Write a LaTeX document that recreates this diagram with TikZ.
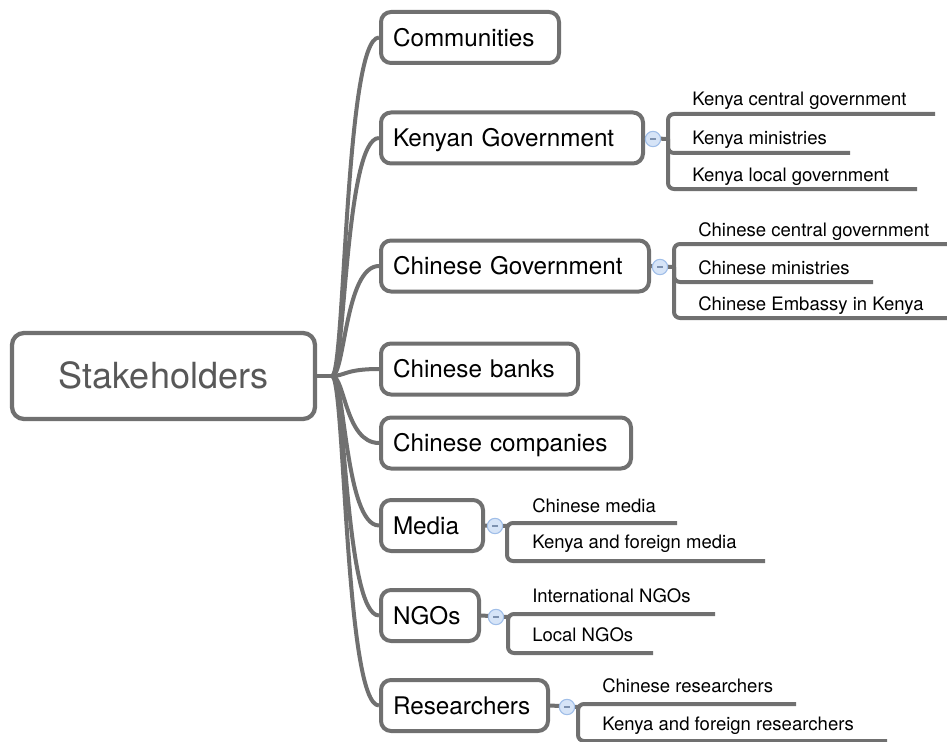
\documentclass[tikz,border=0pt]{standalone}
\usepackage{fontspec}
\setmainfont{TeX Gyre Heros}
\usetikzlibrary{calc}
\definecolor{linegray}{RGB}{112,112,112}
\definecolor{rootgray}{RGB}{88,88,88}
\definecolor{knobfill}{RGB}{214,228,247}
\definecolor{knobdraw}{RGB}{160,190,232}
\definecolor{knobminus}{RGB}{125,145,175}

\begin{document}
\begin{tikzpicture}[x=0.75pt,y=-0.75pt,
  topic/.style={draw=linegray, line width=3pt, rounded corners=7.5pt, fill=white,
    anchor=west, minimum height=38.25pt, inner xsep=9pt, inner ysep=0pt,
    text height=13.1pt, text depth=0pt, align=left,
    font=\fontsize{18.2}{20}\selectfont},
  central/.style={draw=linegray, line width=3.2pt, rounded corners=9pt, fill=white,
    minimum width=227.25pt, minimum height=64.5pt, inner sep=0pt,
    text height=19.4pt, text depth=0pt, text=rootgray,
    font=\fontsize{27}{30}\selectfont},
  branch/.style={draw=linegray, line width=3pt},
  leafline/.style={draw=linegray, line width=3pt, rounded corners=4.5pt},
  leaf/.style={anchor=base west, inner sep=0pt, font=\fontsize{13.9}{16}\selectfont},
  knob/.style={circle, draw=knobdraw, fill=knobfill, line width=0.8pt,
    minimum size=11.5pt, inner sep=0pt},
]
\useasboundingbox (0,0) rectangle (947,742);

% central topic and main topics
\node[central] (root) at (163.5,376) {Stakeholders};
\node[topic, text width=115.5pt] (t1) at (379,37.5) {Communities};
\node[topic, text width=178.5pt] (t2) at (379,138) {Kenyan Government};
\node[topic, text width=183pt] (t3) at (379,266) {Chinese Government};
\node[topic, text width=129.75pt] (t4) at (379,369) {Chinese banks};
\node[topic, text width=169.5pt] (t5) at (379,443) {Chinese companies};
\node[topic, text width=58.5pt] (t6) at (379,525.5) {Media};
\node[topic, text width=55.5pt] (t7) at (379,615.5) {NGOs};
\node[topic, text width=107.25pt] (t8) at (379,705.5) {Researchers};

% curved branches from the central topic
\coordinate (hub) at (332,376);
\draw[branch] (root.east) -- (hub);
\foreach \t in {t1,t2,t3,t4,t5,t6,t7,t8}{
  \draw[branch] (hub) .. controls ($(hub)+(13,0)$) and ($(\t.west)+(-34,0)$) .. (\t.west);
}

% collapse knobs and the spines of the sub-branches
\coordinate (k2) at (653,139);  \coordinate (s2) at (668,139);
\coordinate (k3) at (660,267);  \coordinate (s3) at (674,267);
\coordinate (k6) at (495,526);  \coordinate (s6) at (507,526);
\coordinate (k7) at (496,617);  \coordinate (s7) at (508,617);
\coordinate (k8) at (567,707);  \coordinate (s8) at (578,707);
\foreach \i in {2,3,6,7,8}{
  \draw[branch] (t\i.east) -- (s\i);
}

% underline ends of the subtopics
\coordinate (e21) at (935,114);
\coordinate (e22) at (850,153);
\coordinate (e23) at (917,189);
\coordinate (e31) at (950,244);
\coordinate (e32) at (873,282);
\coordinate (e33) at (950,318);
\coordinate (e61) at (677,523);
\coordinate (e62) at (765,561);
\coordinate (e71) at (715,614);
\coordinate (e72) at (653,653);
\coordinate (e81) at (796,704);
\coordinate (e82) at (887,741);

\foreach \s/\e in {s2/e21,s2/e22,s2/e23,s3/e31,s3/e32,s3/e33,s6/e61,s6/e62,s7/e71,s7/e72,s8/e81,s8/e82}{
  \draw[leafline] (\s) |- (\e);
}

% subtopic labels
\node[leaf] (l21) at (692,106) {Kenya central government};
\node[leaf] (l22) at (692,145) {Kenya ministries};
\node[leaf] (l23) at (692,181) {Kenya local government};
\node[leaf] (l31) at (698,236) {Chinese central government};
\node[leaf] (l32) at (698,274) {Chinese ministries};
\node[leaf] (l33) at (698,310) {Chinese Embassy in Kenya};
\node[leaf] (l61) at (532,512) {Chinese media};
\node[leaf] (l62) at (532,548) {Kenya and foreign media};
\node[leaf] (l71) at (532,602) {International NGOs};
\node[leaf] (l72) at (532,641) {Local NGOs};
\node[leaf] (l81) at (602,692) {Chinese researchers};
\node[leaf] (l82) at (602,730) {Kenya and foreign researchers};

% knobs on top of the stubs
\foreach \i in {2,3,6,7,8}{
  \node[knob] (kn\i) at (k\i) {};
  \draw[knobminus, line width=0.8pt] ($(k\i)+(-3,0)$) -- ($(k\i)+(3,0)$);
}
\end{tikzpicture}
\end{document}
